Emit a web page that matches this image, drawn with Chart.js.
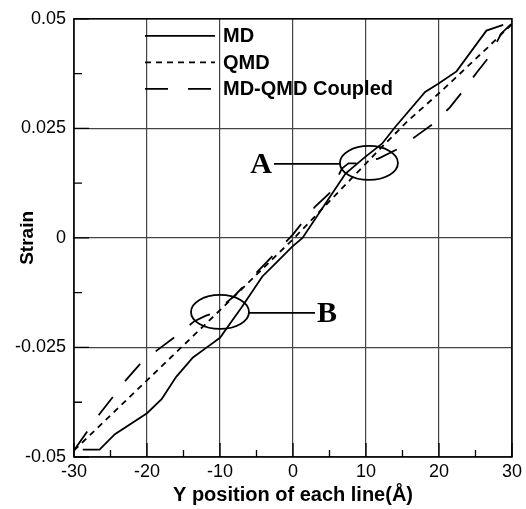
<!DOCTYPE html>
<html>
<head>
<meta charset="utf-8">
<script src="https://cdn.jsdelivr.net/npm/chart.js@4/dist/chart.umd.min.js"></script>
<style>
  html, body { margin: 0; padding: 0; background: #fff; }
  #wrap { width: 526px; height: 509px; }
</style>
</head>
<body>
<div id="wrap"><canvas id="strainChart"></canvas></div>
<script>
// Data
const mdX = [-28.8, -26.5, -24.4, -20, -18, -16, -13.7, -11.9, -10, -9.2, -7.1, -4.2, -2.8, -0.1, 1.3, 4.2, 7.2, 9.9, 12.2, 14, 18.1, 19.9, 22.4, 26.5, 28.8];
const mdY = [-0.0483, -0.0483, -0.0448, -0.040, -0.0368, -0.0317, -0.0273, -0.0251, -0.0228, -0.0209, -0.016, -0.0088, -0.0065, -0.002, 0.0, 0.0072, 0.0147, 0.0185, 0.0215, 0.0253, 0.0333, 0.0352, 0.038, 0.0473, 0.0486];

const qmdX = [-30, -20, -10, 0, 10, 12.2, 15.8, 20.4, 26.7, 30];
const qmdY = [-0.0485, -0.0325, -0.0165, -0.0003, 0.017, 0.0208, 0.0268, 0.0336, 0.0435, 0.0488];

const cpX = [-30, -26.5, -22.8, -20.8, -18.5, -16, -13.5, -12, -10.8, -8, -4, 0, 3, 5, 6.7, 7.6, 9, 11.7, 14.5, 17, 19.5, 21.5, 23.5, 25.2, 27, 28.5, 30];
const cpY = [-0.0485, -0.0402, -0.0323, -0.0285, -0.0255, -0.0224, -0.019, -0.0178, -0.0171, -0.0132, -0.0062, 0.0008, 0.0071, 0.0102, 0.0158, 0.017, 0.017, 0.0181, 0.0204, 0.0234, 0.0264, 0.0298, 0.034, 0.0378, 0.0416, 0.0466, 0.049];

const xTicks = [-30, -20, -10, 0, 10, 20, 30];
const yTicks = [-0.05, -0.025, 0, 0.025, 0.05];
const seriesNames = ['MD', 'QMD', 'MD-QMD Coupled'];
const marks = [
    { label: 'A', x: 10.4, y: 0.0171, side: -1 },
    { label: 'B', x: -10, y: -0.0169, side: 1 }
];

const toPoints = (xs, ys) => xs.map((x, i) => ({ x: x, y: ys[i] }));
const dashes = [[], [6, 5], [23, 20]];
const sans = '"Liberation Sans", Arial, sans-serif';

// Inside ticks, frame, legend and the A/B callouts
const decorPlugin = {
    id: 'decor',
    afterDatasetsDraw(chart) {
        const ctx = chart.ctx;
        const a = chart.chartArea;
        const xs = chart.scales.x, ys = chart.scales.y;
        ctx.save();
        ctx.strokeStyle = '#000';
        ctx.lineWidth = 1.5;
        ctx.strokeRect(a.left, a.top, a.right - a.left, a.bottom - a.top);

        ctx.lineWidth = 1.3;
        ctx.beginPath();
        for (let v = -30; v <= 30; v += 5) {
            const px = xs.getPixelForValue(v);
            const len = v % 10 === 0 ? 14 : 7;
            ctx.moveTo(px, a.bottom);
            ctx.lineTo(px, a.bottom - len);
        }
        for (let k = 0; k <= 8; k++) {
            const v = -0.05 + k * 0.0125;
            const py = ys.getPixelForValue(v);
            const len = k % 2 === 0 ? 15 : 8;
            ctx.moveTo(a.left, py);
            ctx.lineTo(a.left + len, py);
        }
        ctx.stroke();

        // legend
        ctx.font = 'bold 20px ' + sans;
        ctx.textBaseline = 'middle';
        ctx.fillStyle = '#000';
        ctx.lineWidth = 1.8;
        seriesNames.forEach((name, i) => {
            const y = a.top + 17 + i * 26.5;
            ctx.setLineDash(dashes[i]);
            ctx.beginPath();
            ctx.moveTo(a.left + 71, y);
            ctx.lineTo(a.left + 141, y);
            ctx.stroke();
            ctx.setLineDash([]);
            ctx.fillText(name, a.left + 149, y + 1);
        });

        // callout ellipses
        ctx.lineWidth = 1.8;
        ctx.font = 'bold 30px "Liberation Serif", "Times New Roman", serif';
        marks.forEach(m => {
            const cx = xs.getPixelForValue(m.x);
            const cy = ys.getPixelForValue(m.y);
            const rx = 29, ry = 17;
            ctx.beginPath();
            ctx.ellipse(cx, cy, rx, ry, 0, 0, Math.PI * 2);
            ctx.stroke();
            ctx.beginPath();
            ctx.moveTo(cx + m.side * rx, cy + 1);
            ctx.lineTo(cx + m.side * (rx + 66), cy + 1);
            ctx.stroke();
            ctx.textAlign = m.side < 0 ? 'right' : 'left';
            ctx.fillText(m.label, cx + m.side * (rx + 68), cy + 2);
        });
        ctx.restore();
    }
};

const ctx = document.getElementById('strainChart').getContext('2d');
new Chart(ctx, {
    type: 'line',
    data: {
        datasets: [
            { label: seriesNames[0], data: toPoints(mdX, mdY), borderDash: dashes[0] },
            { label: seriesNames[1], data: toPoints(qmdX, qmdY), borderDash: dashes[1] },
            { label: seriesNames[2], data: toPoints(cpX, cpY), borderDash: dashes[2] }
        ].map(d => Object.assign(d, {
            borderColor: '#000',
            borderWidth: 1.8,
            pointRadius: 0,
            tension: 0,
            fill: false
        }))
    },
    options: {
        responsive: true,
        maintainAspectRatio: false,
        animation: false,
        layout: { padding: { top: 18, right: 12, left: 0, bottom: 0 } },
        plugins: {
            legend: { display: false },
            tooltip: { enabled: false }
        },
        scales: {
            x: {
                type: 'linear',
                min: -30,
                max: 30,
                afterFit: s => { s.height = 52; },
                afterBuildTicks: s => { s.ticks = xTicks.map(v => ({ value: v })); },
                grid: { color: '#444', lineWidth: 1.2, drawTicks: false },
                border: { display: false },
                ticks: {
                    color: '#000',
                    padding: 4,
                    maxRotation: 0,
                    font: { family: sans, size: 18 }
                },
                title: {
                    display: true,
                    text: 'Y position of each line(Å)',
                    color: '#000',
                    padding: { top: 0, bottom: 2 },
                    font: { family: sans, size: 20, weight: 'bold' }
                }
            },
            y: {
                type: 'linear',
                min: -0.05,
                max: 0.05,
                afterFit: s => { s.width = 74; },
                afterBuildTicks: s => { s.ticks = yTicks.map(v => ({ value: v })); },
                grid: { color: '#444', lineWidth: 1.2, drawTicks: false },
                border: { display: false },
                ticks: {
                    color: '#000',
                    padding: 8,
                    font: { family: sans, size: 18 },
                    callback: v => String(Math.round(v * 1000) / 1000)
                },
                title: {
                    display: true,
                    text: 'Strain',
                    color: '#000',
                    padding: { top: 16, bottom: 0 },
                    font: { family: sans, size: 19, weight: 'bold' }
                }
            }
        }
    },
    plugins: [decorPlugin]
});
</script>
</body>
</html>
